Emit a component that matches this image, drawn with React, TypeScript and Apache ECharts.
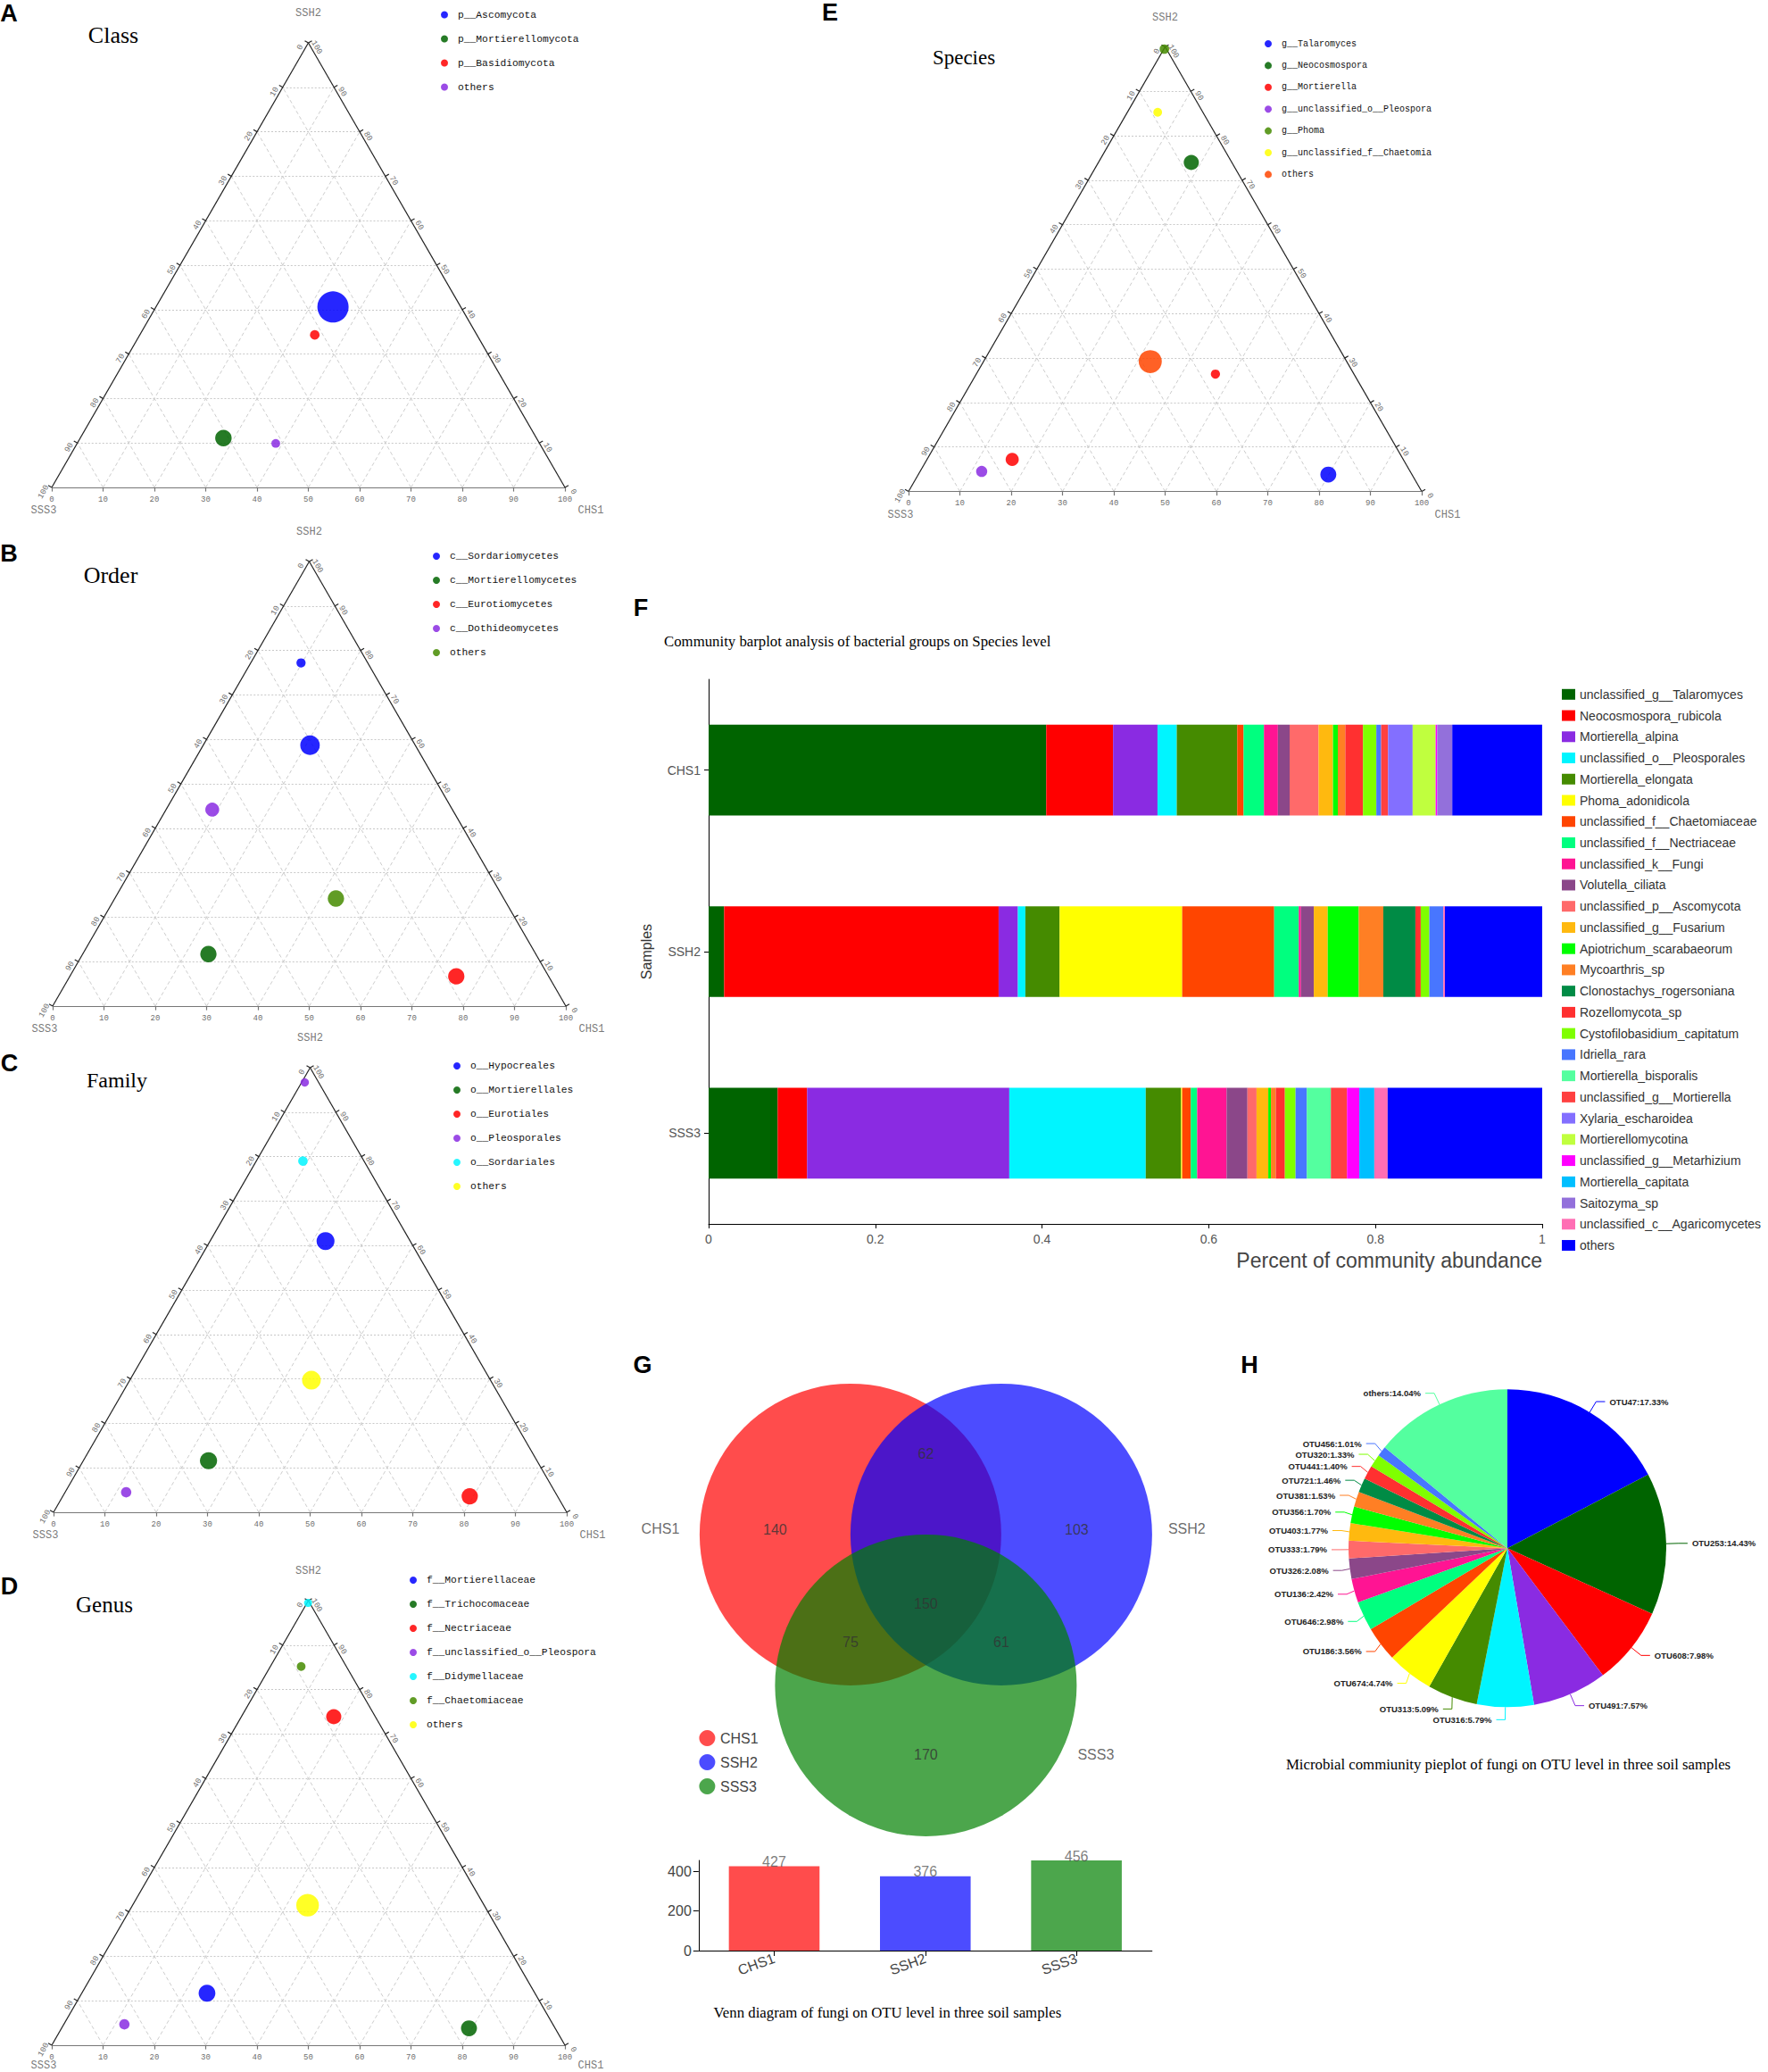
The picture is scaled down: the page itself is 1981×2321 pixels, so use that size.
import React, { useEffect, useRef } from "react";
import * as echarts from "echarts";

const SANS = "'Liberation Sans', Arial, Helvetica, sans-serif";
const SERIF = "'Liberation Serif', 'Times New Roman', serif";
const MONO = "'Liberation Mono', 'DejaVu Sans Mono', monospace";

/* ---------------- Ternary plots (A–E) ---------------- */
const ternaryTicks = [0, 10, 20, 30, 40, 50, 60, 70, 80, 90, 100];
// each point: [CHS1 %, SSH2 %, SSS3 %, relative abundance index]
const classNames = ["p__Ascomycota", "p__Mortierellomycota", "p__Basidiomycota", "others"];
const classColors = ["#0000FF", "#006400", "#FF0000", "#8A2BE2"];
const classPoints = [
  [[34.5, 40.6, 24.9, 94.5]],
  [[27.9, 11.1, 61.0, 26.4]],
  [[34.1, 34.3, 31.6, 8.8]],
  [[38.7, 9.9, 51.4, 7.4]],
];

const orderNames = ["c__Sordariomycetes", "c__Mortierellomycetes", "c__Eurotiomycetes", "c__Dothideomycetes", "others"];
const orderColors = ["#0000FF", "#006400", "#FF0000", "#8A2BE2", "#458B00"];
const orderPoints = [
  [[9.8, 77.2, 13.0, 8.2], [20.8, 58.7, 20.5, 37.0]],
  [[24.5, 11.7, 63.8, 25.8]],
  [[75.3, 6.7, 18.0, 25.8]],
  [[9.0, 44.2, 46.8, 18.8]],
  [[43.1, 24.2, 32.7, 25.8]],
];

const familyNames = ["o__Hypocreales", "o__Mortierellales", "o__Eurotiales", "o__Pleosporales", "o__Sordariales", "others"];
const familyColors = ["#0000FF", "#006400", "#FF0000", "#8A2BE2", "#00F5FF", "#FFFF00"];
const familyPoints = [
  [[22.5, 61.0, 16.5, 31.2]],
  [[24.4, 11.6, 64.0, 28.4]],
  [[79.3, 3.6, 17.1, 25.8]],
  [[0.6, 96.7, 2.7, 6.8], [11.9, 4.5, 83.6, 10.4]],
  [[9.1, 79.0, 11.9, 8.8]],
  [[35.4, 29.7, 34.9, 34.0]],
];

const genusNames = ["f__Mortierellaceae", "f__Trichocomaceae", "f__Nectriaceae", "f__unclassified_o__Pleospora", "f__Didymellaceae", "f__Chaetomiaceae", "others"];
const genusColors = ["#0000FF", "#006400", "#FF0000", "#8A2BE2", "#00F5FF", "#458B00", "#FFFF00"];
const genusPoints = [
  [[24.4, 11.7, 63.9, 27.3]],
  [[79.4, 3.8, 16.8, 24.7]],
  [[18.0, 73.9, 8.1, 22.3]],
  [[11.8, 4.7, 83.5, 10.4]],
  [[0.2, 99.5, 0.3, 6.3]],
  [[6.0, 85.2, 8.8, 7.4]],
  [[34.1, 31.5, 34.4, 49.8]],
];

const speciesTerNames = ["g__Talaromyces", "g__Neocosmospora", "g__Mortierella", "g__unclassified_o__Pleospora", "g__Phoma", "g__unclassified_f__Chaetomia", "others"];
const speciesTerColors = ["#0000FF", "#006400", "#FF0000", "#8A2BE2", "#458B00", "#FFFF00", "#FF4500"];
const speciesTerPoints = [
  [[79.9, 3.8, 16.3, 24.7]],
  [[18.1, 74.0, 7.9, 22.3]],
  [[16.6, 7.2, 76.2, 16.7], [46.6, 26.4, 27.0, 8.2]],
  [[12.0, 4.5, 83.5, 12.1]],
  [[0.1, 99.5, 0.4, 8.8]],
  [[5.9, 85.3, 8.8, 7.4]],
  [[32.5, 29.2, 38.3, 51.8]],
];

/* ---------------- F: community barplot ---------------- */
const sampleNames = ["CHS1", "SSH2", "SSS3"];
const speciesNames = [
  "unclassified_g__Talaromyces", "Neocosmospora_rubicola", "Mortierella_alpina", "unclassified_o__Pleosporales",
  "Mortierella_elongata", "Phoma_adonidicola", "unclassified_f__Chaetomiaceae", "unclassified_f__Nectriaceae",
  "unclassified_k__Fungi", "Volutella_ciliata", "unclassified_p__Ascomycota", "unclassified_g__Fusarium",
  "Apiotrichum_scarabaeorum", "Mycoarthris_sp", "Clonostachys_rogersoniana", "Rozellomycota_sp",
  "Cystofilobasidium_capitatum", "Idriella_rara", "Mortierella_bisporalis", "unclassified_g__Mortierella",
  "Xylaria_escharoidea", "Mortierellomycotina", "unclassified_g__Metarhizium", "Mortierella_capitata",
  "Saitozyma_sp", "unclassified_c__Agaricomycetes", "others",
];
const speciesColors = [
  "#006400", "#FF0000", "#8A2BE2", "#00F5FF", "#458B00", "#FFFF00", "#FF4500", "#00FF7F",
  "#FF1493", "#8B4789", "#FF6A6A", "#FFB90F", "#00FF00", "#FF7F24", "#008B45", "#FF3030",
  "#7FFF00", "#4876FF", "#54FF9F", "#FF4040", "#836FFF", "#C0FF3E", "#FF00FF", "#00BFFF",
  "#9370DB", "#FF6EB4", "#0000FF",
];
const abundCHS1 = [0.405, 0.0802, 0.0533, 0.0231, 0.0725, 0, 0.0077, 0.0244, 0.0167, 0.0141, 0.0347, 0.0173, 0.0058, 0.009, 0, 0.0212, 0.016, 0.0058, 0, 0.0083, 0.0295, 0.0276, 0.0019, 0, 0.018, 0, 0.1078];
const abundSSH2 = [0.0186, 0.3293, 0.0231, 0.009, 0.0411, 0.147, 0.1104, 0.0295, 0.0026, 0.0154, 0, 0.0167, 0.0372, 0.0295, 0.0385, 0.0064, 0.0103, 0.0167, 0, 0, 0, 0, 0, 0, 0, 0.002, 0.1168];
const abundSSS3 = [0.0828, 0.0353, 0.2426, 0.1637, 0.0424, 0.0013, 0.0103, 0.0077, 0.0353, 0.025, 0.0109, 0.0141, 0.0032, 0.0058, 0, 0.0109, 0.0128, 0.0135, 0.0289, 0.0193, 0, 0, 0.0148, 0.018, 0, 0.016, 0.1855];
const xTicksF = [0, 0.2, 0.4, 0.6, 0.8, 1];

/* ---------------- G: Venn ---------------- */
const vennSets = ["CHS1", "SSH2", "SSS3"];
const vennColors = ["#FF0000", "#0000FF", "#008000"];
// regions: CHS1 only, CHS1∩SSH2, SSH2 only, CHS1∩SSS3, all three, SSH2∩SSS3, SSS3 only
const vennRegionCounts = [140, 62, 103, 75, 150, 61, 170];
const vennTotals = [427, 376, 456];
const vennTicks = [0, 200, 400];

/* ---------------- H: pie ---------------- */
const otuNames = ["OTU47", "OTU253", "OTU608", "OTU491", "OTU316", "OTU313", "OTU674", "OTU186", "OTU646", "OTU136", "OTU326", "OTU333", "OTU403", "OTU356", "OTU381", "OTU721", "OTU441", "OTU320", "OTU456", "others"];
const otuPct = [17.33, 14.43, 7.98, 7.57, 5.79, 5.09, 4.74, 3.56, 2.98, 2.42, 2.08, 1.79, 1.77, 1.70, 1.53, 1.46, 1.40, 1.33, 1.01, 14.04];
const otuColors = ["#0000FF", "#006400", "#FF0000", "#8A2BE2", "#00F5FF", "#458B00", "#FFFF00", "#FF4500", "#00FF7F", "#FF1493", "#8B4789", "#FF6A6A", "#FFB90F", "#00FF00", "#FF7F24", "#008B45", "#FF3030", "#7FFF00", "#4876FF", "#54FF9F"];

/* ---------------- layout ---------------- */
const SQ3 = Math.sqrt(3) / 2;
const TRI_W = 575;
const TRI_H = TRI_W * SQ3;
const toXY = (chs1: number, ssh2: number): [number, number] => [chs1 + ssh2 / 2, ssh2 * SQ3];
const ternaryAxisNames = ["CHS1", "SSH2", "SSS3"];

const ternaryPanels = [
  { key: "A", title: "Class", names: classNames, colors: classColors, points: classPoints, left: 58, base: 546, tx: 127, ty: 39.5, ts: 26, legLeft: 494, legTop: 9.5, legGap: 13, legFont: 11.3, nameDy: 26 },
  { key: "B", title: "Order", names: orderNames, colors: orderColors, points: orderPoints, left: 59, base: 1127, tx: 124, ty: 644, ts: 26, legLeft: 485, legTop: 616, legGap: 13, legFont: 11.3, nameDy: 26 },
  { key: "C", title: "Family", names: familyNames, colors: familyColors, points: familyPoints, left: 60, base: 1694, tx: 131, ty: 1210, ts: 24, legLeft: 508, legTop: 1187, legGap: 13, legFont: 11.3, nameDy: 26 },
  { key: "D", title: "Genus", names: genusNames, colors: genusColors, points: genusPoints, left: 58, base: 2291, tx: 117, ty: 1797, ts: 25, legLeft: 459, legTop: 1763, legGap: 13, legFont: 11.3, nameDy: 23 },
  { key: "E", title: "Species", names: speciesTerNames, colors: speciesTerColors, points: speciesTerPoints, left: 1018, base: 550.5, tx: 1080, ty: 64.7, ts: 23, legLeft: 1417, legTop: 42, legGap: 10.4, legFont: 10, nameDy: 26 },
];

const letters: [string, number, number][] = [
  ["A", 10, 15], ["B", 10, 619.5], ["C", 10.5, 1191], ["D", 10.5, 1777],
  ["E", 930, 14], ["F", 718, 681], ["G", 720, 1529], ["H", 1400, 1529],
];

// Venn layout (grid units: 1 unit = circle radius)
const vennCenters = [[1, 1], [2, 1], [1.5, 2]];
const vennRegionPos = [[0.5, 0.967], [1.5, 0.468], [2.5, 0.967], [1.0, 1.716], [1.5, 1.462], [2.0, 1.716], [1.5, 2.462]];
const vennNamePos = [[-0.26, 0.965], [3.23, 0.965], [2.627, 2.462]];

function ternarySeries(p: any, gi: number) {
  const common = { xAxisIndex: gi, yAxisIndex: gi, silent: true };
  const inner = ternaryTicks.filter((t) => t > 0 && t < 100);
  const out: any[] = [];
  out.push({
    type: "lines", coordinateSystem: "cartesian2d", ...common, z: 1, clip: false,
    lineStyle: { color: "#c8c8c8", width: 1, type: [2, 2], opacity: 1, curveness: 0 },
    data: inner.map((k) => ({ coords: [toXY(0, k), toXY(100 - k, k)] })),
  });
  out.push({
    type: "lines", coordinateSystem: "cartesian2d", ...common, z: 1, clip: false,
    lineStyle: { color: "#cdcdcd", width: 1, type: [4, 3], opacity: 1, curveness: 0 },
    data: [
      ...inner.map((k) => ({ coords: [toXY(k, 0), toXY(k, 100 - k)] })),
      ...inner.map((k) => ({ coords: [toXY(100 - k, 0), toXY(0, 100 - k)] })),
    ],
  });
  const tl = 0.8;
  out.push({
    type: "lines", coordinateSystem: "cartesian2d", ...common, z: 3, clip: false,
    lineStyle: { color: "#222", width: 1.2, opacity: 1, type: "solid" },
    data: [
      { coords: [toXY(0, 0), toXY(0, 100)] },
      { coords: [toXY(100, 0), toXY(0, 100)] },
      { coords: [toXY(0, 0), toXY(100, 0)], lineStyle: { color: "#777" } },
      ...ternaryTicks.map((t) => { const [x, y] = toXY(t, 0); return { coords: [[x, y], [x, y - tl]], lineStyle: { color: "#777" } }; }),
      ...ternaryTicks.map((t) => { const [x, y] = toXY(0, 100 - t); return { coords: [[x, y], [x - tl * SQ3, y + tl * 0.5]] }; }),
      ...ternaryTicks.map((t) => { const [x, y] = toXY(100 - t, t); return { coords: [[x, y], [x + tl * SQ3, y + tl * 0.5]] }; }),
    ],
  });
  const lab = (data: any[], offset: number[], rotate: number) => ({
    type: "scatter", ...common, z: 4, clip: false, symbolSize: 0, itemStyle: { color: "transparent" },
    data,
    label: { show: true, position: "inside", offset, rotate, formatter: (q: any) => String(q.value[2]), fontFamily: MONO, fontSize: 9, color: "#444" },
  });
  out.push(lab(ternaryTicks.map((t) => [...toXY(t, 0), t]), [0, 13.5], 0));
  out.push(lab(ternaryTicks.map((t) => [...toXY(0, 100 - t), t]), [-9, -5.2], 60));
  out.push(lab(ternaryTicks.map((t) => [...toXY(100 - t, t), t]), [9, -5.2], -60));
  out.push({
    type: "scatter", ...common, z: 4, clip: false, symbolSize: 0, itemStyle: { color: "transparent" },
    label: { show: true, position: "inside", formatter: "{b}", fontFamily: MONO, fontSize: 12, color: "#555" },
    data: [
      { name: ternaryAxisNames[1], value: toXY(0, 100), label: { offset: [0, -33] } },
      { name: ternaryAxisNames[2], value: toXY(0, 0), label: { offset: [-9, p.nameDy] } },
      { name: ternaryAxisNames[0], value: toXY(100, 0), label: { offset: [29, p.nameDy] } },
    ],
  });
  p.names.forEach((n: string, i: number) => {
    out.push({
      type: "scatter", name: `${p.key}|${n}`, xAxisIndex: gi, yAxisIndex: gi, z: 5, clip: false,
      data: p.points[i].map((pt: number[]) => [...toXY(pt[0], pt[1]), pt[3]]),
      symbolSize: (v: number[]) => Math.sqrt(v[2]) * 3.6,
      itemStyle: { color: p.colors[i], opacity: 0.85 },
    });
  });
  return out;
}

function buildOption() {
  const grids: any[] = ternaryPanels.map((p) => ({ left: p.left, top: p.base - TRI_H, width: TRI_W, height: TRI_H, containLabel: false, outerBoundsMode: "none" }));
  grids.push({ left: 794, top: 761, width: 934, height: 610, containLabel: false, outerBoundsMode: "none" });
  grids.push({ left: 699.4, top: 1549.9, width: 676, height: 507, containLabel: false, outerBoundsMode: "none" });
  grids.push({ left: 782.8, top: 2084, width: 508, height: 101, containLabel: false, outerBoundsMode: "none" });

  const xAxis: any[] = ternaryPanels.map((_, i) => ({ type: "value", gridIndex: i, min: 0, max: 100, show: false }));
  const yAxis: any[] = ternaryPanels.map((_, i) => ({ type: "value", gridIndex: i, min: 0, max: 100 * SQ3, show: false }));

  const axLine = { show: true, lineStyle: { color: "#000", width: 1 } };
  xAxis.push({
    type: "value", gridIndex: 5, min: 0, max: 1, interval: 0.2, splitLine: { show: false },
    axisLine: axLine, axisTick: { show: true, length: 5, lineStyle: { color: "#000" } },
    axisLabel: { fontFamily: SANS, fontSize: 14, color: "#555", margin: 10, formatter: (v: number) => String(xTicksF.find((t) => Math.abs(t - v) < 1e-6) ?? v) },
  });
  yAxis.push({
    type: "category", gridIndex: 5, data: sampleNames, inverse: true,
    axisLine: axLine, axisTick: { show: true, length: 5, alignWithLabel: true, lineStyle: { color: "#000" } },
    axisLabel: { fontFamily: SANS, fontSize: 14, color: "#555", margin: 9 },
    name: "Samples", nameLocation: "middle", nameGap: 62, nameRotate: 90,
    nameTextStyle: { fontFamily: SANS, fontSize: 16, color: "#333" },
  });
  xAxis.push({ type: "value", gridIndex: 6, min: -0.5, max: 3.5, show: false });
  yAxis.push({ type: "value", gridIndex: 6, min: 0, max: 3, inverse: true, show: false });
  xAxis.push({
    type: "category", gridIndex: 7, data: vennSets,
    axisLine: axLine, axisTick: { show: true, length: 6, alignWithLabel: true, lineStyle: { color: "#000" } },
    axisLabel: { fontFamily: SANS, fontSize: 16, color: "#444", rotate: 20, margin: 8 },
  });
  yAxis.push({
    type: "value", gridIndex: 7, min: 0, max: "dataMax", interval: vennTicks[1] - vennTicks[0], splitLine: { show: false },
    axisLine: axLine, axisTick: { show: true, length: 6, lineStyle: { color: "#000" } },
    axisLabel: { fontFamily: SANS, fontSize: 16, color: "#444", showMaxLabel: false, margin: 8 },
  });

  const series: any[] = [];
  ternaryPanels.forEach((p, i) => series.push(...ternarySeries(p, i)));

  const sampleAbund = [abundCHS1, abundSSH2, abundSSS3];
  speciesNames.forEach((n, i) => {
    series.push({
      type: "bar", name: n, xAxisIndex: 5, yAxisIndex: 5, stack: "total", barWidth: "50%",
      data: sampleAbund.map((arr) => arr[i]), itemStyle: { color: speciesColors[i] }, silent: true,
    });
  });

  vennSets.forEach((s, i) => {
    series.push({
      type: "scatter", name: s, xAxisIndex: 6, yAxisIndex: 6, z: 2 + i, clip: false, silent: true,
      symbolSize: 338, data: [vennCenters[i]], itemStyle: { color: vennColors[i], opacity: 0.7 },
    });
  });
  series.push({
    type: "scatter", name: "vennCounts", xAxisIndex: 6, yAxisIndex: 6, z: 10, clip: false, silent: true, symbolSize: 0,
    itemStyle: { color: "transparent" },
    data: vennRegionCounts.map((c, i) => [vennRegionPos[i][0], vennRegionPos[i][1], c]),
    label: { show: true, position: "inside", formatter: (q: any) => String(q.value[2]), fontFamily: SANS, fontSize: 16, color: "#333" },
  });
  series.push({
    type: "scatter", name: "vennSetNames", xAxisIndex: 6, yAxisIndex: 6, z: 10, clip: false, silent: true, symbolSize: 0,
    itemStyle: { color: "transparent" },
    data: vennSets.map((s, i) => ({ name: s, value: vennNamePos[i] })),
    label: { show: true, position: "inside", formatter: "{b}", fontFamily: SANS, fontSize: 16, color: "#444" },
  });
  series.push({
    type: "bar", name: "vennTotals", xAxisIndex: 7, yAxisIndex: 7, barWidth: "60%", silent: true,
    data: vennTotals.map((v, i) => ({ value: v, itemStyle: { color: vennColors[i], opacity: 0.7 } })),
    label: { show: true, position: "top", distance: -3, fontFamily: SANS, fontSize: 16, color: "#444" },
  });

  series.push({
    type: "pie", name: "otuPie", center: [1689, 1734.3], radius: 178, startAngle: 90, clockwise: true, silent: true,
    avoidLabelOverlap: true, minShowLabelAngle: 0,
    itemStyle: { borderWidth: 0 },
    data: otuNames.map((n, i) => ({ name: n, value: otuPct[i], itemStyle: { color: otuColors[i] } })),
    label: { show: true, formatter: (q: any) => `${q.name}:${Number(q.value).toFixed(2)}%`, fontFamily: SANS, fontSize: 9.5, fontWeight: "bold", color: "#222" },
    labelLine: { show: true, length: 14, length2: 10, lineStyle: { width: 1 } },
  });

  const legend: any[] = ternaryPanels.map((p) => ({
    data: p.names.map((n) => `${p.key}|${n}`),
    formatter: (n: string) => n.split("|")[1],
    orient: "vertical", left: p.legLeft, top: p.legTop, padding: 0, icon: "circle",
    itemWidth: 20, itemHeight: 8, itemGap: p.legGap, selectedMode: false,
    textStyle: { fontFamily: MONO, fontSize: p.legFont, color: "#111", lineHeight: 14 },
  }));
  legend.push({
    data: speciesNames, orient: "vertical", left: 1750, top: 769.8, padding: 0, icon: "rect",
    itemWidth: 15, itemHeight: 12, itemGap: 7.74, selectedMode: false,
    textStyle: { fontFamily: SANS, fontSize: 14, color: "#333", lineHeight: 16 },
  });
  legend.push({
    data: vennSets, orient: "vertical", left: 783.4, top: 1938, padding: 0, icon: "circle",
    itemWidth: 19.2, itemHeight: 18, itemGap: 9, selectedMode: false,
    textStyle: { fontFamily: SANS, fontSize: 16, color: "#444", lineHeight: 18 },
  });

  const txt = (text: string, x: number, y: number, size: number, family: string, opts: any = {}) => ({
    type: "text", x, y, silent: true,
    style: { text, fill: opts.fill || "#000", fontSize: size, fontFamily: family, fontWeight: opts.weight || "normal", align: opts.align || "center", verticalAlign: "middle" },
  });
  const graphic: any[] = [
    ...letters.map(([t, x, y]) => txt(t, x, y, 27, SANS, { weight: "bold" })),
    ...ternaryPanels.map((p) => txt(p.title, p.tx, p.ty, p.ts, SERIF)),
    txt("Community barplot analysis of bacterial groups on Species level", 744, 718, 16.8, SERIF, { align: "left" }),
    txt("Percent of community abundance", 1728, 1411.5, 23, SANS, { align: "right", fill: "#444" }),
    txt("Venn diagram of fungi on OTU level in three soil samples", 994.4, 2254, 16.8, SERIF),
    txt("Microbial commiunity pieplot of fungi on OTU level in three soil samples", 1690, 1976, 16.8, SERIF),
  ];

  return {
    animation: false,
    backgroundColor: "#fff",
    textStyle: { fontFamily: SANS },
    grid: grids, xAxis, yAxis, series, legend, graphic,
  };
}

export default function App() {
  const ref = useRef<HTMLDivElement>(null);
  useEffect(() => {
    if (!ref.current) return;
    const chart = echarts.init(ref.current, null, { renderer: "svg" });
    chart.setOption(buildOption() as any);
    return () => chart.dispose();
  }, []);
  return <div ref={ref} style={{ position: "absolute", left: 0, top: 0, width: 1981, height: 2321, background: "#fff" }} />;
}
